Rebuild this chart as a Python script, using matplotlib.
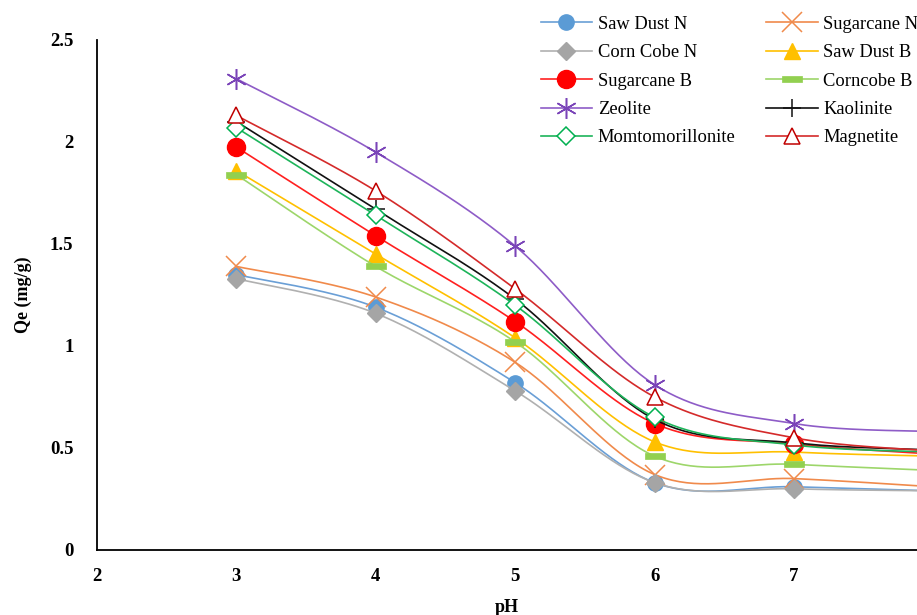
import numpy as np
import matplotlib
matplotlib.use("Agg")
import matplotlib.pyplot as plt
from matplotlib.path import Path
from matplotlib.lines import Line2D

plt.rcParams['font.family'] = ['Liberation Serif', 'DejaVu Serif']

ph = [3, 4, 5, 6, 7, 8]
saw_dust_n = [1.35, 1.19, 0.82, 0.33, 0.31, 0.29]
sugarcane_n = [1.39, 1.24, 0.92, 0.37, 0.35, 0.31]
corn_cobe_n = [1.33, 1.16, 0.78, 0.33, 0.30, 0.29]
saw_dust_b = [1.86, 1.45, 1.04, 0.53, 0.48, 0.46]
sugarcane_b = [1.975, 1.54, 1.12, 0.62, 0.52, 0.47]
corncobe_b = [1.84, 1.39, 1.02, 0.46, 0.42, 0.39]
zeolite = [2.31, 1.95, 1.49, 0.81, 0.62, 0.58]
kaolinite = [2.10, 1.67, 1.23, 0.64, 0.525, 0.49]
momtomorillonite = [2.07, 1.64, 1.20, 0.65, 0.515, 0.48]
magnetite = [2.13, 1.76, 1.28, 0.75, 0.55, 0.485]

names = ["Saw Dust N", "Sugarcane N", "Corn Cobe N", "Saw Dust B", "Sugarcane B",
         "Corncobe B", "Zeolite", "Kaolinite", "Momtomorillonite", "Magnetite"]
values = [saw_dust_n, sugarcane_n, corn_cobe_n, saw_dust_b, sugarcane_b,
          corncobe_b, zeolite, kaolinite, momtomorillonite, magnetite]

dash = Path([(-1, -0.28), (1, -0.28), (1, 0.28), (-1, 0.28), (-1, -0.28)],
            [Path.MOVETO, Path.LINETO, Path.LINETO, Path.LINETO, Path.CLOSEPOLY])

styles = [
    dict(color='#6A9FD6', marker='o', ms=11, mfc='#5B9BD5', mec='#5B9BD5', mew=1),
    dict(color='#F08A4B', marker='x', ms=14, mfc='none', mec='#F08A4B', mew=1.1),
    dict(color='#B0B0B0', marker='D', ms=9, mfc='#A5A5A5', mec='#A5A5A5', mew=1),
    dict(color='#FFC000', marker='^', ms=12, mfc='#FFC000', mec='#FFC000', mew=1),
    dict(color='#FF2020', marker='o', ms=13, mfc='#FF0000', mec='#FF0000', mew=1),
    dict(color='#9DD66A', marker=dash, ms=14, mfc='#92D050', mec='#92D050', mew=0.5),
    dict(color='#8E5CC7', marker=(6, 2, 0), ms=15, mfc='none', mec='#7A44B8', mew=1.1),
    dict(color='#111111', marker='+', ms=13, mfc='none', mec='#111111', mew=1.1),
    dict(color='#1DB45A', marker='D', ms=9, mfc='white', mec='#00B050', mew=1.1),
    dict(color='#D42A2A', marker='^', ms=12, mfc='white', mec='#C00000', mew=1.1),
]


def smooth(x, y, n=40):
    x = np.asarray(x, float)
    y = np.asarray(y, float)
    px = np.concatenate([[x[0]], x, [x[-1]]])
    py = np.concatenate([[y[0]], y, [y[-1]]])
    xs, ys = [], []
    t = np.linspace(0, 1, n)
    for i in range(1, len(px) - 2):
        p0 = np.array([px[i], py[i]])
        p3 = np.array([px[i + 1], py[i + 1]])
        p1 = p0 + (p3 - np.array([px[i - 1], py[i - 1]])) / 6
        p2 = p3 - (np.array([px[i + 2], py[i + 2]]) - p0) / 6
        b = ((1 - t) ** 3)[:, None] * p0 + (3 * (1 - t) ** 2 * t)[:, None] * p1 + \
            (3 * (1 - t) * t ** 2)[:, None] * p2 + (t ** 3)[:, None] * p3
        xs.append(b[:, 0])
        ys.append(b[:, 1])
    return np.concatenate(xs), np.concatenate(ys)


fig = plt.figure(figsize=(9.17, 6.15), dpi=100)
ax = fig.add_axes([97 / 917, 1 - 550 / 615, 1 - 97 / 917, 510 / 615])

handles = []
for name, vals, st in zip(names, values, styles):
    sx, sy = smooth(ph, vals)
    ax.plot(sx, sy, color=st['color'], lw=1.2, clip_on=True)
    ax.plot(ph, vals, ls='none', marker=st['marker'], ms=st['ms'], mfc=st['mfc'],
            mec=st['mec'], mew=st['mew'], clip_on=True)
    handles.append(Line2D([], [], color=st['color'], lw=1.2, marker=st['marker'],
                          ms=st['ms'], mfc=st['mfc'], mec=st['mec'], mew=st['mew'],
                          label=name))

ax.set_xlim(2, 2 + (917 - 97) / 139.4)
ax.set_ylim(0, 2.5)
ax.set_xticks([2, 3, 4, 5, 6, 7])
ax.set_yticks([0, 0.5, 1, 1.5, 2, 2.5])
ax.set_yticklabels(['0', '0.5', '1', '1.5', '2', '2.5'])
ax.tick_params(length=0, labelsize=13.5)
for lab in ax.get_xticklabels() + ax.get_yticklabels():
    lab.set_fontweight('bold')
ax.tick_params(axis='x', pad=13)
ax.tick_params(axis='y', pad=17)
ax.spines['top'].set_visible(False)
ax.spines['right'].set_visible(False)
ax.spines['left'].set_linewidth(1.3)
ax.spines['bottom'].set_linewidth(1.3)
ax.set_xlabel('pH', fontsize=13, fontweight='bold', labelpad=10)
ax.set_ylabel('Qe (mg/g)', fontsize=13, fontweight='bold', labelpad=13)

order = handles[0::2] + handles[1::2]
fig.legend(handles=order, loc='upper left', bbox_to_anchor=(524 / 917, 1 + 1 / 615),
           ncol=2, frameon=False, fontsize=13.3, handlelength=2.8,
           columnspacing=1.65, labelspacing=0.62, handletextpad=0.3)

fig.savefig('out.png', dpi=100)
